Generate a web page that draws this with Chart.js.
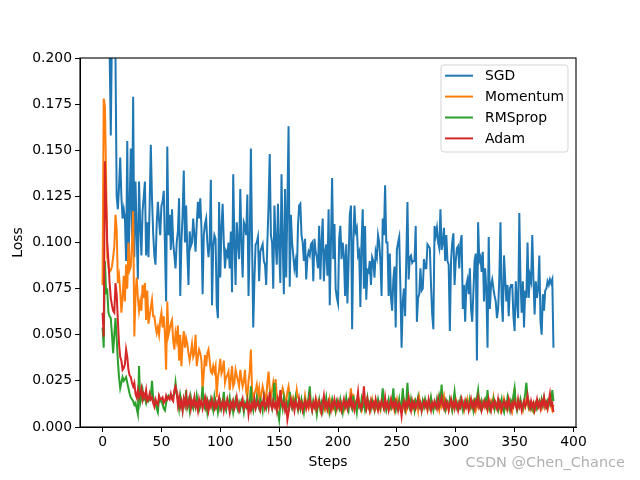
<!DOCTYPE html>
<html>
<head>
<meta charset="utf-8">
<script src="https://cdn.jsdelivr.net/npm/chart.js@4.4.1/dist/chart.umd.min.js"></script>
<style>
html,body{margin:0;padding:0;background:#fff;}
#wrap{width:640px;height:480px;position:relative;}
</style>
</head>
<body>
<div id="wrap"><canvas id="c" width="640" height="480"></canvas></div>
<script>
const SERIES_NAMES = ['SGD', 'Momentum', 'RMSprop', 'Adam'];
const SERIES_COLORS = ['#1f77b4', '#ff7f0e', '#2ca02c', '#d62728'];
const X_TICKS = [0, 50, 100, 150, 200, 250, 300, 350, 400];
const Y_TICKS = [0, 0.025, 0.05, 0.075, 0.1, 0.125, 0.15, 0.175, 0.2];

const SGD = [
.42,.35,.29,.26,.24,.22,.205,.158,.215,.23,
.21,.2,.125,.118,.13,.146,.125,.113,.118,.113,
.09,.155,.086,.12,.151,.103,.179,.092,.133,.105,
.08,.133,.11,.093,.117,.125,.133,.093,.111,.092,
.12,.153,.124,.105,.093,.088,.11,.122,.112,.104,
.12,.122,.128,.098,.068,.152,.104,.115,.096,.118,
.1,.093,.086,.1,.106,.124,.071,.1,.115,.139,
.1,.12,.095,.077,.106,.098,.1,.113,.104,.095,
.11,.122,.113,.124,.108,.072,.104,.11,.113,.1,
.092,.1,.134,.066,.098,.104,.102,.066,.059,.122,
.081,.108,.121,.1,.086,.095,.093,.1,.086,.106,
.073,.137,.1,.077,.111,.1,.091,.129,.1,.081,
.111,.109,.104,.126,.071,.1,.151,.1,.054,.08,
.099,.1,.103,.079,.095,.097,.099,.09,.088,.077,
.1,.12,.148,.104,.1,.075,.12,.1,.088,.121,
.097,.078,.137,.1,.072,.129,.081,.12,.163,.076,
.115,.1,.093,.086,.09,.081,.109,.12,.121,.104,
.1,.09,.102,.08,.092,.095,.093,.099,.1,.079,
.102,.095,.092,.086,.109,.08,.1,.113,.079,.095,
.099,.082,.118,.066,.1,.135,.091,.11,.075,.07,
.067,.102,.109,.091,.1,.093,.071,.099,.067,.09,
.115,.12,.053,.1,.12,.106,.108,.093,.095,.065,
.1,.118,.075,.109,.069,.085,.084,.09,.077,.092,
.09,.081,.095,.092,.104,.1,.09,.071,.113,.104,
.131,.1,.1,.071,.094,.07,.063,.08,.087,.054,
.096,.1,.103,.075,.043,.068,.075,.06,.091,.122,
.08,.092,.093,.089,.09,.09,.109,.057,.07,.072,
.086,.074,.075,.091,.086,.086,.099,.098,.097,.077,
.061,.053,.109,.104,.108,.1,.097,.118,.096,.1,
.108,.09,.104,.09,.088,.052,.09,.1,.105,.077,
.09,.097,.098,.086,.1,.104,.064,.077,.057,.077,
.08,.072,.086,.064,.057,.073,.09,.094,.036,.111,
.09,.092,.084,.095,.068,.086,.074,.043,.103,.064,
.077,.08,.075,.071,.068,.059,.064,.08,.111,.068,
.057,.093,.08,.068,.077,.06,.075,.077,.077,.06,
.052,.079,.068,.059,.116,.08,.062,.079,.054,.074,
.07,.1,.07,.082,.079,.104,.08,.061,.079,.07,
.075,.093,.057,.05,.072,.063,.074,.075,.079,.077,
.08,.078,.08,.043
];

const MOMENTUM = [
.077,.178,.174,.137,.092,.087,.084,.085,.087,.092,
.098,.115,.107,.078,.082,.074,.062,.07,.082,.068,
.088,.075,.1,.085,.087,.1,.117,.049,.072,.081,
.07,.063,.068,.063,.077,.07,.078,.058,.074,.056,
.06,.065,.069,.06,.06,.055,.051,.054,.05,.058,
.062,.054,.06,.05,.031,.068,.05,.053,.056,.058,
.047,.042,.051,.047,.055,.036,.05,.033,.045,.052,
.043,.048,.045,.04,.036,.04,.045,.038,.04,.05,
.033,.038,.042,.04,.036,.02,.029,.039,.033,.04,
.042,.036,.03,.029,.033,.03,.033,.016,.027,.031,
.037,.029,.031,.036,.024,.027,.028,.03,.02,.026,
.033,.022,.024,.031,.028,.025,.022,.031,.026,.022,
.025,.031,.019,.016,.025,.03,.042,.02,.015,.018,
.02,.023,.017,.021,.014,.018,.022,.019,.017,.015,
.024,.03,.021,.016,.02,.024,.018,.026,.017,.011,
.015,.016,.018,.021,.018,.015,.013,.019,.022,.017,
.015,.013,.016,.014,.013,.02,.016,.015,.014,.011,
.009,.012,.017,.013,.012,.01,.014,.013,.01,.012,
.013,.01,.014,.011,.012,.009,.013,.012,.011,.009,
.011,.012,.009,.015,.012,.01,.013,.011,.008,.011,
.012,
.012,.01,.013,.011,.009,.012,.014,.011,.013,.016,
.021,.012,.018,.011,.013,.01,.012,.014,.011,.009,
.013,.012,.01,.014,.011,.013,.009,.012,.015,.011,
.013,.01,.012,.014,.011,.009,.013,.012,.01,.014,
.011,.013,.012,.01,.014,.011,.013,.009,.012,.015,
.011,.013,.01,.012,.014,.011,.013,.009,.012,.015,
.011,.013,.01,.012,.014,.011,.013,.009,.016,.012,
.01,.013,.011,.014,.012,.009,.013,.011,.015,.012,
.01,.013,.011,.014,.012,.009,.013,.011,.014,.017,
.012,.01,.013,.011,.014,.012,.009,.013,.011,.015,
.012,.01,.013,.011,.014,.012,.009,.013,.011,.015,
.012,.01,.013,.011,.014,.012,.009,.013,.011,.015,
.012,.01,.013,.011,.014,.012,.009,.013,.011,.014,
.012,.016,.01,.013,.011,.014,.012,.009,.013,.011,
.015,.012,.01,.013,.011,.014,.012,.009,.015,.021,
.012,.01,.013,.011,.014,.012,.009,.013,.011,.015,
.012,.01,.013,.011,.009,.008,.012,.01,.013,.011,
.014,.012,.01,.013,.015,.011,.013,.01,.014,.012,
.011,.009,.012
];

const RMSPROP = [
.054,.043,.09,.073,.074,.062,.06,.059,.05,.04,
.05,.059,.048,.036,.027,.021,.024,.027,.025,.026,
.027,.024,.021,.018,.016,.015,.014,.012,.013,.01,
.007,.033,.013,.016,.02,.015,.016,.013,.016,.014,
.015,.017,.025,.016,.014,.013,.01,.008,.016,.014,
.015,.012,.01,.009,.013,.016,.017,.016,.016,.017,
.017,.018,.024,.018,.015,.01,.017,.013,.009,.015,
.012,.02,.011,.014,.009,.016,.012,.01,.014,.011,
.017,.013,.009,.011,.015,.022,.012,.01,.014,.008,
.013,.011,.015,.012,.009,.016,.011,.013,.008,.012,
.014,.01,.013,.019,.011,.009,.014,.012,.016,.01,
.013,.008,.012,.015,.011,.009,.013,.01,.014,.012,
.008,.013,.011,.015,.01,.013,.022,.012,.009,.014,
.011,.016,.012,.01,.015,.013,.009,.016,.012,.01,
.014,.011,.017,.013,.01,.015,.024,.012,.009,.008,
.004,.012,.014,.01,.016,.012,.009,.013,.011,.019,
.012,.01,.014,.011,.016,.012,.009,.013,.01,.015,
.012,.008,.014,.011,.013,.016,.022,.012,.009,.014,
.011,.013,.007,.012,.015,.01,.013,.009,.014,.012,
.016,.01,.013,.008,.012,.015,.011,.013,.009,.014,
.012,.01,.015,.012,.008,.013,.011,.016,.012,.009,
.014,.012,.01,.017,.011,.013,.008,.014,.012,.01,
.015,.011,.013,.009,.012,.016,.011,.013,.01,.014,
.012,.009,.013,.011,.015,.012,.01,.014,.021,.011,
.013,.009,.012,.015,.011,.01,.014,.021,.012,.009,
.013,.011,.015,.01,.012,.021,.012,.009,.014,.024,
.012,.01,.015,.011,.013,.009,.014,.012,.016,.011,
.013,.009,.014,.011,.015,.012,.01,.014,.011,.016,
.012,.009,.013,.011,.015,.012,.017,.014,.023,.013,
.011,.009,.014,.012,.01,.015,.012,.009,.014,.019,
.012,.01,.013,.011,.015,.012,.009,.013,.011,.014,
.012,.01,.015,.011,.013,.009,.014,.012,.016,.02,
.012,.01,.014,.011,.013,.015,.012,.02,.011,.009,
.013,.012,.015,.01,.013,.011,.009,.014,.012,.015,
.01,.008,.013,.011,.016,.012,.009,.014,.012,.017,
.021,.012,.009,.013,.011,.015,.012,.01,.014,.018,
.024,.016,.011,.013,.01,.012,.009,.011,.013,.01,
.012,.014,.011,.015,.012,.016,.013,.011,.014,.012,
.015,.013,.02,.014
];

const ADAM = [
.062,.049,.144,.122,.1,.09,.078,.07,.066,.063,
.062,.078,.072,.058,.045,.038,.036,.031,.032,.034,
.042,.038,.031,.028,.027,.024,.022,.024,.018,.016,
.02,.016,.018,.021,.015,.018,.016,.02,.014,.015,
.018,.015,.016,.013,.011,.015,.013,.012,.017,.015,
.015,.016,.013,.014,.017,.015,.016,.015,.018,.015,
.014,.02,.022,.019,.012,.016,.011,.014,.009,.015,
.012,.017,.011,.013,.016,.01,.014,.012,.016,.011,
.013,.009,.015,.012,.014,.01,.013,.016,.011,.014,
.009,.013,.011,.015,.012,.01,.014,.011,.013,.016,
.01,.012,.014,.009,.013,.011,.015,.012,.008,.013,
.011,.014,.01,.012,.016,.011,.009,.013,.012,.015,
.01,.012,.011,.014,.007,.012,.009,.013,.011,.015,
.01,.012,.014,.011,.009,.013,.012,.016,.01,.012,
.015,.011,.019,.012,.01,.014,.011,.013,.009,.015,
.012,.02,.014,.011,.013,.009,.012,.004,.008,.012,
.015,.011,.013,.009,.014,.012,.01,.015,.011,.013,
.009,.012,.014,.01,.013,.011,.016,.012,.009,.013,
.011,.015,.01,.012,.014,.011,.008,.013,.017,.011,
.013,.01,.014,.012,.009,.013,.011,.015,.012,.01,
.014,.011,.013,.009,.012,.015,.011,.013,.01,.014,
.012,.016,.011,.013,.009,.012,.014,.019,.011,.012,
.01,.014,.022,.013,.01,.015,.012,.009,.014,.011,
.013,.01,.015,.012,.009,.013,.011,.014,.012,.01,
.016,.011,.013,.009,.012,.015,.011,.013,.01,.014,
.012,.009,.013,.011,.006,.012,.014,.01,.013,.011,
.016,.012,.009,.014,.011,.013,.01,.012,.015,.011,
.013,.009,.012,.014,.011,.013,.01,.015,.012,.009,
.013,.011,.014,.012,.01,.015,.011,.013,.016,.012,
.01,.014,.011,.013,.009,.012,.015,.011,.013,.01,
.014,.012,.009,.013,.011,.015,.012,.01,.014,.011,
.013,.009,.012,.015,.011,.013,.01,.014,.012,.016,
.011,.013,.009,.012,.014,.011,.013,.01,.015,.012,
.009,.013,.011,.014,.012,.01,.015,.011,.013,.009,
.012,.014,.011,.013,.01,.015,.012,.009,.013,.011,
.014,.012,.01,.015,.011,.013,.009,.012,.014,.011,
.013,.017,.012,.01,.014,.011,.013,.009,.012,.015,
.011,.013,.01,.014,.012,.016,.011,.013,.01,.014,
.018,.012,.013,.008
];

const STEPS = SGD.map((_, i) => i);
const SERIES = [SGD, MOMENTUM, RMSPROP, ADAM];

const FONT = "'DejaVu Sans', sans-serif";

const framePlugin = {
  id: 'frame',
  afterDatasetsDraw(chart) {
    const {ctx, chartArea: a} = chart;
    ctx.save();
    ctx.strokeStyle = '#000';
    ctx.lineWidth = 1.1;
    ctx.strokeRect(a.left, a.top, a.right - a.left, a.bottom - a.top);
    ctx.restore();
  },
  afterDraw(chart) {
    const {ctx, chartArea: a} = chart;
    ctx.save();
    // legend box inside the axes, upper right
    const bx = a.right - 135, by = a.top + 7, bw = 127, bh = 87;
    const r = 3;
    ctx.beginPath();
    ctx.moveTo(bx + r, by);
    ctx.arcTo(bx + bw, by, bx + bw, by + bh, r);
    ctx.arcTo(bx + bw, by + bh, bx, by + bh, r);
    ctx.arcTo(bx, by + bh, bx, by, r);
    ctx.arcTo(bx, by, bx + bw, by, r);
    ctx.closePath();
    ctx.fillStyle = 'rgba(255,255,255,0.8)';
    ctx.fill();
    ctx.strokeStyle = '#d5d5d5';
    ctx.lineWidth = 1;
    ctx.stroke();
    ctx.font = '13.9px ' + FONT;
    ctx.textBaseline = 'middle';
    ctx.textAlign = 'left';
    chart.data.datasets.forEach((ds, i) => {
      const y = by + 10.7 + i * 20.9;
      ctx.strokeStyle = ds.borderColor;
      ctx.lineWidth = 2;
      ctx.beginPath();
      ctx.moveTo(bx + 4, y);
      ctx.lineTo(bx + 32, y);
      ctx.stroke();
      ctx.fillStyle = '#000';
      ctx.fillText(ds.label, bx + 44, y + 1);
    });
    // watermark
    ctx.font = '14.5px ' + FONT;
    ctx.textAlign = 'right';
    ctx.fillStyle = '#b0b0b0';
    ctx.fillText('CSDN @Chen_Chance', 625, 463);
    ctx.restore();
  }
};

new Chart(document.getElementById('c'), {
  type: 'line',
  data: {
    labels: STEPS,
    datasets: SERIES.map((arr, i) => ({
      label: SERIES_NAMES[i],
      data: arr,
      borderColor: SERIES_COLORS[i],
      backgroundColor: SERIES_COLORS[i],
      borderWidth: 2,
      pointRadius: 0,
      tension: 0,
      fill: false,
      order: SERIES.length - 1 - i
    }))
  },
  options: {
    responsive: false,
    animation: false,
    devicePixelRatio: 1,
    layout: {padding: {left: 0, top: 58, right: 64, bottom: 0}},
    plugins: {legend: {display: false}, tooltip: {enabled: false}},
    scales: {
      x: {
        type: 'linear',
        min: -19.15,
        max: 402.15,
        afterFit(s) { s.height = 53; },
        afterBuildTicks(s) { s.ticks = X_TICKS.map(v => ({value: v})); },
        ticks: {color: '#000', font: {family: FONT, size: 13.9}, padding: 2, maxRotation: 0, autoSkip: false,
          callback: v => String(v)},
        grid: {display: true, drawOnChartArea: false, drawTicks: true, tickLength: 5, tickColor: '#000', tickWidth: 1},
        border: {display: true, color: '#000', width: 1},
        title: {display: true, text: 'Steps', color: '#000', font: {family: FONT, size: 13.9}, padding: {top: 0, bottom: 9}}
      },
      y: {
        type: 'linear',
        min: 0,
        max: 0.2,
        afterFit(s) { s.width = 80; },
        afterBuildTicks(s) { s.ticks = Y_TICKS.map(v => ({value: v})); },
        ticks: {color: '#000', font: {family: FONT, size: 13.9}, padding: 3, autoSkip: false,
          callback: v => Number(v).toFixed(3)},
        grid: {display: true, drawOnChartArea: false, drawTicks: true, tickLength: 5, tickColor: '#000', tickWidth: 1},
        border: {display: true, color: '#000', width: 1},
        title: {display: true, text: 'Loss', color: '#000', font: {family: FONT, size: 13.9}, padding: {top: 10, bottom: 0}}
      }
    }
  },
  plugins: [framePlugin]
});
</script>
</body>
</html>
